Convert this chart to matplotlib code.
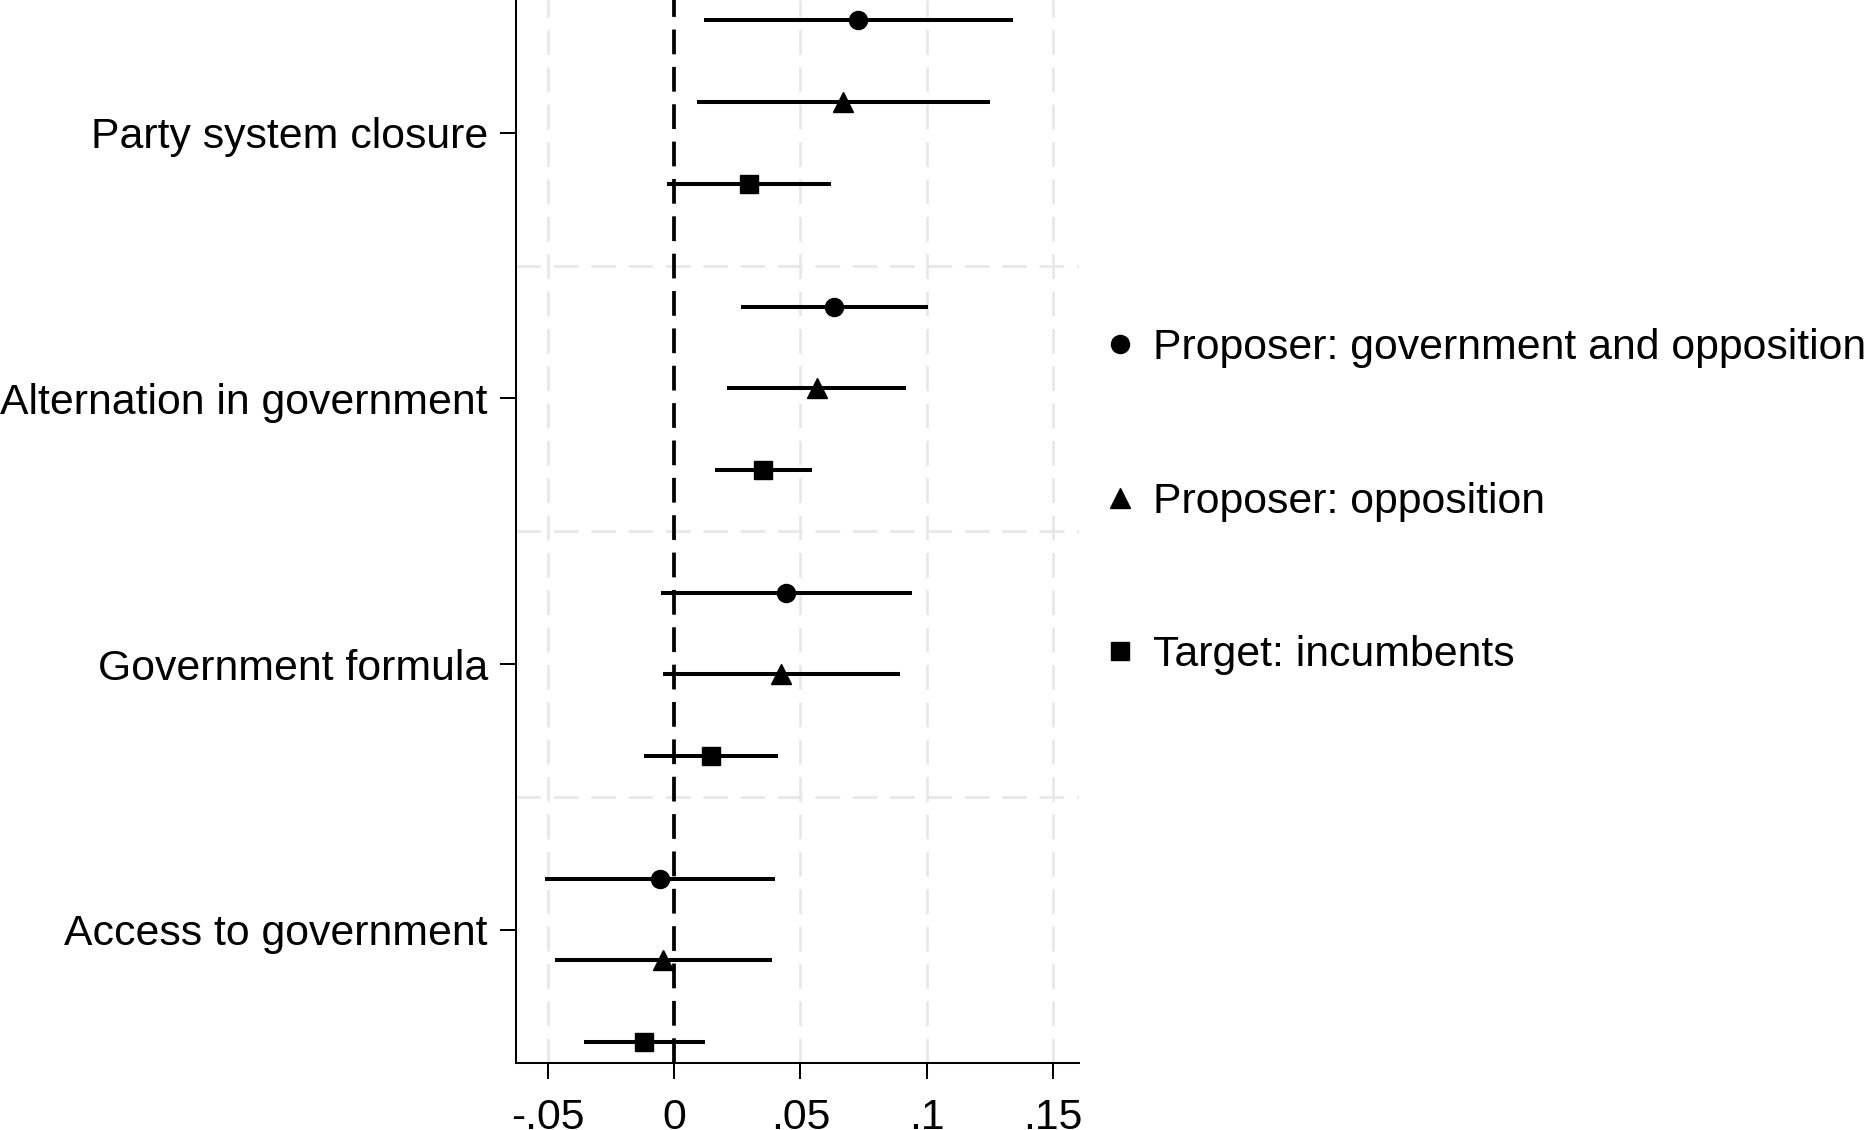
import matplotlib
matplotlib.use('Agg')
import matplotlib.pyplot as plt
import numpy as np

plt.rcParams['font.family'] = ['Liberation Sans', 'DejaVu Sans']
plt.rcParams['lines.scale_dashes'] = False

### Data
categories = [
	'Party system closure',
	'Alternation in government',
	'Government formula',
	'Access to government',
]
series_labels = [
	'Proposer: government and opposition',
	'Proposer: opposition',
	'Target: incumbents',
]

coef_gov_opp = [0.0727, 0.0632, 0.0444, -0.0055]
lo_gov_opp   = [0.0119, 0.0264, -0.0050, -0.0510]
hi_gov_opp   = [0.1342, 0.1005, 0.0941, 0.0400]

coef_opp = [0.0669, 0.0565, 0.0424, -0.0042]
lo_opp   = [0.0091, 0.0211, -0.0042, -0.0471]
hi_opp   = [0.1249, 0.0918, 0.0894, 0.0387]

coef_inc = [0.0297, 0.0353, 0.0146, -0.0117]
lo_inc   = [-0.0027, 0.0161, -0.0117, -0.0355]
hi_inc   = [0.0623, 0.0547, 0.0410, 0.0122]

x_ticks       = [-0.05, 0, 0.05, 0.1, 0.15]
x_tick_labels = ['-.05', '0', '.05', '.1', '.15']

### Figure
fig = plt.figure(figsize=(18.68, 11.30), dpi=100)
ax  = fig.add_axes([0.2761, 0.0597, 0.3017, 0.9403])

n_groups     = len(categories)
group_height = 3.25
base         = np.arange(n_groups) * 3.5 + 0.25

series = [
	(coef_gov_opp, lo_gov_opp, hi_gov_opp, 'o', 13.0),
	(coef_opp,     lo_opp,     hi_opp,     '^', 14.8),
	(coef_inc,     lo_inc,     hi_inc,     's', 12.8),
]

handles = []
for k, (coef, lo, hi, marker, ms) in enumerate(series):
	y = base + k
	ax.hlines(y, lo, hi, color='black', lw=2.9, zorder=2)
	h, = ax.plot(coef, y, linestyle='none', marker=marker, ms=ms,
	             color='black', zorder=3, label=series_labels[k])
	handles.append(h)

ax.axvline(0, color='black', lw=2.7, linestyle=(0, (17.8, 9.1)), zorder=1)

### Axes
ax.set_xlim(-0.0626, 0.1604)
ax.set_ylim(n_groups * group_height, 0)

ax.set_xticks(x_ticks)
ax.set_xticklabels(x_tick_labels)
ax.set_yticks(np.arange(n_groups) * group_height + group_height / 2)
ax.set_yticklabels(categories)
ax.set_yticks(np.arange(1, n_groups) * group_height, minor=True)

ax.tick_params(which='major', length=11.5, width=1.45, labelsize=30.8, color='black')
ax.tick_params(axis='y', which='minor', length=0)
ax.tick_params(axis='y', pad=8.6)
ax.tick_params(axis='x', pad=14)

grid_style = dict(color='#e8e8e8', lw=2.0, linestyle=(0, (17.8, 9.1)))
ax.grid(axis='x', which='major', **grid_style)
ax.grid(axis='y', which='minor', **grid_style)
ax.set_axisbelow(True)

for side in ['top', 'right']:
	ax.spines[side].set_visible(False)
for side in ['left', 'bottom']:
	ax.spines[side].set_linewidth(1.45)

### Legend
fig.legend(
	handles, series_labels,
	loc            = 'center left',
	bbox_to_anchor = (0.5904, 0.5561),
	frameon        = False,
	fontsize       = 30.8,
	labelspacing   = 2.66,
	handlelength   = 0.8,
	handletextpad  = 0.37,
	borderpad      = 0,
	borderaxespad  = 0
)

fig.savefig('out.png', dpi=100)
